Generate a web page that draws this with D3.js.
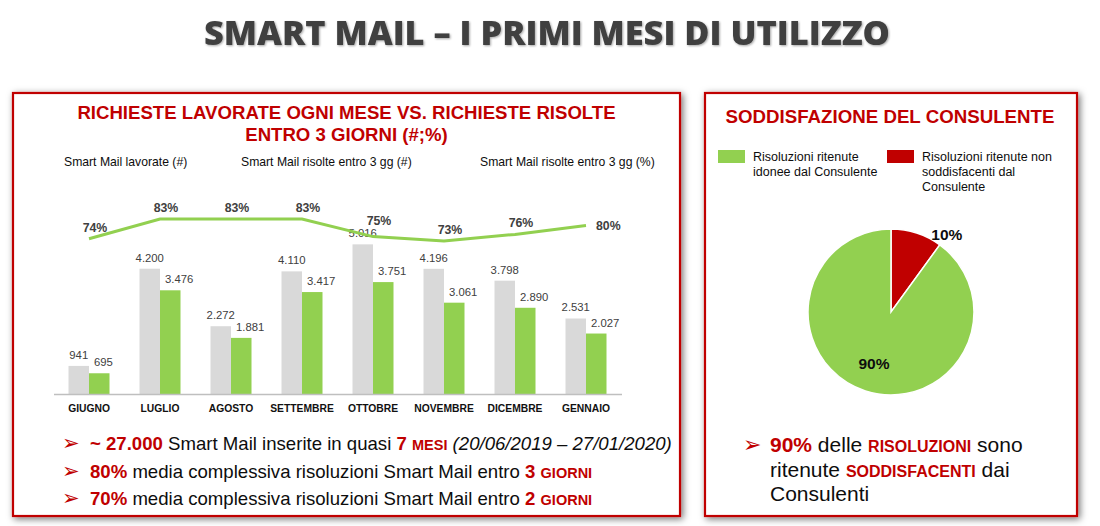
<!DOCTYPE html>
<html>
<head>
<meta charset="utf-8">
<script src="https://cdn.jsdelivr.net/npm/d3@7"></script>
<style>
  html, body { margin: 0; padding: 0; background: #ffffff; }
  svg { display: block; font-family: "Liberation Sans", Arial, sans-serif; }
</style>
</head>
<body>
<svg id="chart" width="1100" height="526"></svg>
<script>
// ---------- DATA ----------
const months = ["GIUGNO", "LUGLIO", "AGOSTO", "SETTEMBRE", "OTTOBRE", "NOVEMBRE", "DICEMBRE", "GENNAIO"];
const lavorate = [941, 4200, 2272, 4110, 5016, 4196, 3798, 2531];
const risolte = [695, 3476, 1881, 3417, 3751, 3061, 2890, 2027];
const pctRisolte = [74, 83, 83, 83, 75, 73, 76, 80];
const legendLabels = ["Smart Mail lavorate (#)", "Smart Mail risolte entro 3 gg (#)", "Smart Mail risolte entro 3 gg (%)"];
const pieCategories = ["Risoluzioni ritenute non soddisfacenti dal Consulente", "Risoluzioni ritenute idonee dal Consulente"];
const pieValues = [10, 90];

const RED = "#C00000", GREEN = "#92D050", GREY = "#D9D9D9", DARK = "#404040";
const itFmt = d3.formatLocale({decimal: ",", thousands: ".", grouping: [3], currency: ["€", ""]}).format(",d");

const svg = d3.select("#chart");

// ---------- filters ----------
const defs = svg.append("defs");
const f = defs.append("filter").attr("id", "shadow").attr("x", "-5%").attr("y", "-5%").attr("width", "110%").attr("height", "110%");
f.append("feDropShadow").attr("dx", 2).attr("dy", 2).attr("stdDeviation", 3.5).attr("flood-color", "#000").attr("flood-opacity", 0.55);
const tf = defs.append("filter").attr("id", "tshadow");
tf.append("feDropShadow").attr("dx", 1).attr("dy", 1).attr("stdDeviation", 0.8).attr("flood-color", "#000").attr("flood-opacity", 0.35);

// ---------- main title ----------
svg.append("text")
  .attr("x", 204).attr("y", 45)
  .attr("textLength", 686).attr("lengthAdjust", "spacingAndGlyphs")
  .style("font-family", "'Open Sans', Lato, sans-serif")
  .style("font-weight", 800).style("font-size", "34px")
  .attr("fill", DARK).attr("filter", "url(#tshadow)")
  .text("SMART MAIL – I PRIMI MESI DI UTILIZZO");

// ---------- panels ----------
const panels = [{x: 13, y: 93, w: 667, h: 423}, {x: 705, y: 93, w: 372, h: 423}];
svg.selectAll("rect.panel").data(panels).join("rect")
  .attr("class", "panel")
  .attr("x", d => d.x).attr("y", d => d.y).attr("width", d => d.w).attr("height", d => d.h)
  .attr("fill", "#fff").attr("stroke", RED).attr("stroke-width", 2.2)
  .attr("filter", "url(#shadow)");

// ---------- left chart ----------
const left = svg.append("g");
left.append("text").attr("x", 346.5).attr("y", 119).attr("text-anchor", "middle")
  .attr("fill", RED).style("font-weight", "bold").style("font-size", "18.6px")
  .text("RICHIESTE LAVORATE OGNI MESE VS. RICHIESTE RISOLTE");
left.append("text").attr("x", 346.5).attr("y", 140.5).attr("text-anchor", "middle")
  .attr("fill", RED).style("font-weight", "bold").style("font-size", "18.6px")
  .text("ENTRO 3 GIORNI (#;%)");

const legendX = [64, 241, 480];
left.selectAll("text.leg").data(legendLabels).join("text")
  .attr("class", "leg")
  .attr("x", (d, i) => legendX[i]).attr("y", 166)
  .style("font-size", "12.2px").attr("fill", "#0d0d0d")
  .text(d => d);

const x = d3.scaleBand().domain(months).range([53.5, 621.5]).padding(0);
const xs = d3.scaleBand().domain(["lav", "ris"]).range([15, 56]).padding(0);
const y = d3.scaleLinear().domain([0, 6000]).range([394, 215]);
const yp = d3.scaleLinear().domain([73, 83]).range([241, 219]);

const rows = months.map((m, i) => ({m, lav: lavorate[i], ris: risolte[i], pct: pctRisolte[i]}));

// bars
const g = left.selectAll("g.month").data(rows).join("g").attr("class", "month")
  .attr("transform", d => `translate(${x(d.m)},0)`);
g.append("rect").attr("x", xs("lav")).attr("width", xs.bandwidth())
  .attr("y", d => y(d.lav)).attr("height", d => y(0) - y(d.lav)).attr("fill", GREY);
g.append("rect").attr("x", xs("ris")).attr("width", xs.bandwidth())
  .attr("y", d => y(d.ris)).attr("height", d => y(0) - y(d.ris)).attr("fill", GREEN);
g.append("text").attr("x", xs("lav") + xs.bandwidth() / 2).attr("y", d => y(d.lav) - 7)
  .attr("text-anchor", "middle").style("font-size", "11.3px").attr("fill", DARK)
  .text(d => itFmt(d.lav));
g.append("text").attr("x", xs("ris") + 5).attr("y", d => y(d.ris) - 7)
  .style("font-size", "11.3px").attr("fill", DARK)
  .text(d => itFmt(d.ris));

// axis
const xAxis = left.append("g").attr("transform", `translate(0,${y(0)})`)
  .call(d3.axisBottom(x).tickSize(0).tickPadding(11));
xAxis.select(".domain").attr("stroke", "#BFBFBF").attr("stroke-width", 1.5);
xAxis.selectAll("text").style("font-family", "'Liberation Sans', Arial, sans-serif")
  .style("font-size", "10.3px").style("font-weight", "bold").attr("fill", "#111");

// line
const cx = d => x(d.m) + x.bandwidth() / 2;
left.append("path").datum(rows)
  .attr("fill", "none").attr("stroke", GREEN).attr("stroke-width", 3)
  .attr("d", d3.line().x(cx).y(d => yp(d.pct)));
const last = rows.length - 1;
// keep % labels clear of the grey value labels below them
const pctY = (d, i) => {
  if (i === last) return yp(d.pct) + 4;
  const base = yp(d.pct) - 7;
  const greyBase = y(d.lav) - 7;
  return Math.min(base, greyBase - 12);
};
left.selectAll("text.pct").data(rows).join("text").attr("class", "pct")
  .attr("x", (d, i) => i === last ? cx(d) + 10 : cx(d) + 6)
  .attr("y", pctY)
  .attr("text-anchor", (d, i) => i === last ? "start" : "middle")
  .style("font-size", "12.3px").style("font-weight", "bold").attr("fill", DARK)
  .text(d => d.pct + "%");

// bullets left
function arrow(sel, xx, yy, size) {
  sel.append("text").attr("x", xx).attr("y", yy)
    .style("font-family", "'DejaVu Sans', sans-serif").style("font-size", size + "px")
    .attr("fill", RED).text("➢");
}
const bl = [
  [{t: "~ 27.000", b: 1}, {t: " Smart Mail inserite in quasi "}, {t: "7 ", b: 1}, {t: "MESI", b: 1, sc: 1}, {t: " "}, {t: "(20/06/2019 – 27/01/2020)", i: 1}],
  [{t: "80%", b: 1}, {t: " media complessiva risoluzioni Smart Mail entro "}, {t: "3 ", b: 1}, {t: "GIORNI", b: 1, sc: 1}],
  [{t: "70%", b: 1}, {t: " media complessiva risoluzioni Smart Mail entro "}, {t: "2 ", b: 1}, {t: "GIORNI", b: 1, sc: 1}]
];
const blY = [450, 477.5, 505];
bl.forEach((parts, k) => {
  arrow(left, 62, blY[k], 21);
  const t = left.append("text").attr("x", 90).attr("y", blY[k]).style("font-size", "18.6px").attr("fill", "#0d0d0d");
  parts.forEach(p => {
    t.append("tspan").text(p.t)
      .style("font-weight", p.b ? "bold" : "normal")
      .style("font-style", p.i ? "italic" : "normal")
      .style("font-size", p.sc ? "14.5px" : "18.6px")
      .attr("fill", p.b ? RED : "#0d0d0d");
  });
});

// ---------- right panel ----------
const right = svg.append("g");
right.append("text").attr("x", 890).attr("y", 123).attr("text-anchor", "middle")
  .attr("fill", RED).style("font-weight", "bold").style("font-size", "18.7px")
  .text("SODDISFAZIONE DEL CONSULENTE");

const legItems = [
  {c: GREEN, x: 718, lines: ["Risoluzioni ritenute", "idonee dal Consulente"]},
  {c: RED, x: 887, lines: ["Risoluzioni ritenute non", "soddisfacenti dal", "Consulente"]}
];
legItems.forEach(it => {
  right.append("rect").attr("x", it.x).attr("y", 150).attr("width", 27).attr("height", 13).attr("fill", it.c);
  const t = right.append("text").attr("y", 161).style("font-size", "12.5px").attr("fill", "#0d0d0d");
  it.lines.forEach((l, i) => t.append("tspan").attr("x", it.x + 35).attr("dy", i ? 15 : 0).text(l));
});

const pieData = d3.pie().sort(null)(pieValues);
const arc = d3.arc().innerRadius(0).outerRadius(83);
const pc = right.append("g").attr("transform", "translate(891,312)");
pc.selectAll("path").data(pieData).join("path")
  .attr("d", arc).attr("fill", (d, i) => i === 0 ? RED : GREEN)
  .attr("stroke", "#fff").attr("stroke-width", 1.5);
// labels
pc.append("text")
  .attr("x", Math.sin(pieData[0].endAngle) * 95).attr("y", -Math.cos(pieData[0].endAngle) * 95 + 5)
  .attr("text-anchor", "middle").style("font-size", "15.5px").style("font-weight", "bold").attr("fill", "#0d0d0d")
  .text(pieValues[0] + "%");
const mid1 = (pieData[1].startAngle + pieData[1].endAngle) / 2;
pc.append("text")
  .attr("x", Math.sin(mid1) * 55).attr("y", -Math.cos(mid1) * 55 + 5)
  .attr("text-anchor", "middle").style("font-size", "15.5px").style("font-weight", "bold").attr("fill", "#0d0d0d")
  .text(pieValues[1] + "%");

// bullets right
arrow(right, 743, 452, 22);
const rl = [
  [{t: "90%", b: 1}, {t: " delle "}, {t: "RISOLUZIONI", b: 1, sc: 1}, {t: " sono"}],
  [{t: "ritenute "}, {t: "SODDISFACENTI", b: 1, sc: 1}, {t: " dai"}],
  [{t: "Consulenti"}]
];
const rlY = [452, 476.5, 501];
rl.forEach((parts, k) => {
  const t = right.append("text").attr("x", 770).attr("y", rlY[k]).style("font-size", "21px").attr("fill", "#0d0d0d");
  parts.forEach(p => {
    t.append("tspan").text(p.t)
      .style("font-weight", p.b ? "bold" : "normal")
      .style("font-size", p.sc ? "16px" : "21px")
      .attr("fill", p.b ? RED : "#0d0d0d");
  });
});
</script>
</body>
</html>
